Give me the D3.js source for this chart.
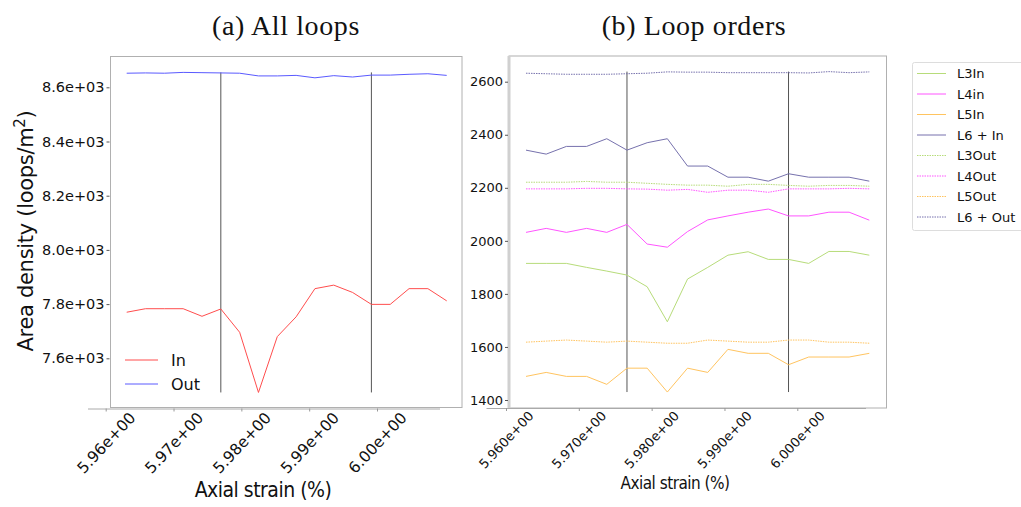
<!DOCTYPE html>
<html><head><meta charset="utf-8">
<script src="https://cdn.jsdelivr.net/npm/d3@7"></script>
<style>body{margin:0;background:#fff}svg{display:block}</style>
</head><body>
<svg id="c" width="1021" height="507"></svg>
<script>
// ---- data ----
const xTicks = [5.96, 5.97, 5.98, 5.99, 6.00];
const yTicksA = [7600, 7800, 8000, 8200, 8400, 8600];
const yTicksB = [1400, 1600, 1800, 2000, 2200, 2400, 2600];
const markerIdx = [5, 13];
const allIn  = [7770, 7783, 7783, 7783, 7755, 7782, 7696, 7474, 7680, 7753, 7857, 7870, 7843, 7799, 7799, 7857, 7857, 7812];
const allOut = [8652, 8653, 8652, 8655, 8654, 8653, 8652, 8642, 8642, 8644, 8635, 8643, 8638, 8645, 8645, 8648, 8650, 8644];
const L3In  = [1915, 1915, 1915, 1900, 1886, 1871, 1827, 1695, 1856, 1900, 1946, 1959, 1930, 1930, 1915, 1960, 1960, 1946];
const L4In  = [2032, 2047, 2032, 2047, 2032, 2062, 1988, 1976, 2035, 2079, 2094, 2108, 2120, 2094, 2094, 2108, 2108, 2078];
const L5In  = [1489, 1504, 1489, 1489, 1459, 1520, 1520, 1430, 1520, 1504, 1591, 1576, 1576, 1533, 1562, 1562, 1562, 1576];
const L6In  = [2342, 2327, 2356, 2356, 2385, 2342, 2370, 2385, 2282, 2282, 2240, 2240, 2225, 2253, 2240, 2240, 2240, 2225];
const L3Out = [2221, 2221, 2221, 2224, 2221, 2221, 2217, 2213, 2210, 2210, 2206, 2213, 2213, 2209, 2206, 2209, 2209, 2206];
const L4Out = [2196, 2196, 2196, 2198, 2198, 2196, 2195, 2191, 2194, 2183, 2191, 2191, 2183, 2196, 2196, 2196, 2198, 2196];
const L5Out = [1618, 1622, 1626, 1622, 1618, 1622, 1618, 1614, 1614, 1626, 1622, 1618, 1618, 1626, 1626, 1618, 1618, 1614];
const L6Out = [2632, 2630, 2628, 2628, 2628, 2630, 2632, 2637, 2636, 2636, 2634, 2634, 2634, 2634, 2633, 2638, 2634, 2637];
const seriesA = [
  {name: "In", values: allIn, color: "#ff4d4d"},
  {name: "Out", values: allOut, color: "#5a5aff"}
];
const seriesB = [
  {name: "L3In", values: L3In, color: "#b7dc7a", dash: null},
  {name: "L4in", values: L4In, color: "#ff55ff", dash: null},
  {name: "L5In", values: L5In, color: "#ffc460", dash: null},
  {name: "L6 + In", values: L6In, color: "#7671ad", dash: null},
  {name: "L3Out", values: L3Out, color: "#b7dc7a", dash: "1.5,1"},
  {name: "L4Out", values: L4Out, color: "#ff55ff", dash: "1.5,1"},
  {name: "L5Out", values: L5Out, color: "#ffc460", dash: "1.5,1"},
  {name: "L6 + Out", values: L6Out, color: "#7671ad", dash: "1.5,1"}
];

const svg = d3.select("#c");
const sans = "'DejaVu Sans', sans-serif";
const serif = "'Liberation Serif', 'DejaVu Serif', serif";

function panel(o) {
  const g = svg.append("g");
  const xi = d3.scaleLinear().domain([0, o.n - 1]).range(o.dataX);
  const y = d3.scaleLinear().domain(o.yDomain).range(o.yRange);
  const xt = d3.scaleLinear().domain([5.96, 6.00]).range(o.tickX);
  // frame
  g.append("rect").attr("x", o.frame[0]).attr("y", o.frame[1])
    .attr("width", o.frame[2] - o.frame[0]).attr("height", o.frame[3] - o.frame[1])
    .attr("fill", "none").attr("stroke", "#b0b0b0").attr("stroke-width", 1);
  if (o.leftBar) {
    g.append("line").attr("x1", o.frame[0]).attr("x2", o.frame[0])
      .attr("y1", o.frame[1]).attr("y2", o.frame[3])
      .attr("stroke", "#d0d0d0").attr("stroke-width", 3);
  }
  // y axis
  const ya = g.append("g").attr("transform", `translate(${o.frame[0] - 1},0)`)
    .call(d3.axisLeft(y).tickValues(o.yTicks).tickSize(3).tickPadding(2).tickFormat(o.yFmt));
  ya.select(".domain").remove();
  ya.selectAll(".tick line").attr("stroke", "#555");
  ya.selectAll("text").attr("font-family", sans).attr("font-size", o.yFont).attr("fill", "#111");
  // x axis (offset spine)
  const xa = g.append("g").attr("transform", `translate(0,${o.axisY})`)
    .call(d3.axisBottom(xt).tickValues(xTicks).tickSize(3).tickFormat(o.xFmt));
  xa.select(".domain").attr("d", `M${o.axisX[0]},0.5H${o.axisX[1]}`).attr("stroke", "#aaa");
  xa.selectAll(".tick line").attr("stroke", "#999");
  xa.selectAll("text").attr("font-family", sans).attr("font-size", o.xFont).attr("fill", "#111")
    .attr("text-anchor", "middle").attr("dy", null).attr("y", 0)
    .attr("transform", `translate(${o.labelDX},${o.labelDY}) rotate(-47)`);
  // vertical markers
  const all = o.series.flatMap(s => s.values);
  const lo = d3.min(all), hi = d3.max(all);
  g.selectAll(".vm").data(markerIdx).join("line")
    .attr("x1", d => xi(d)).attr("x2", d => xi(d))
    .attr("y1", y(hi)).attr("y2", y(lo))
    .attr("stroke", "#555").attr("stroke-width", 1);
  // lines
  const line = d3.line().x((d, i) => xi(i)).y(d => y(d));
  g.selectAll(".ln").data(o.series).join("path")
    .attr("d", d => line(d.values)).attr("fill", "none")
    .attr("stroke", d => d.color).attr("stroke-width", 1)
    .attr("stroke-dasharray", d => d.dash || null);
  // title
  svg.append("text").attr("x", o.titleX).attr("y", 35).attr("text-anchor", "middle")
    .attr("font-family", serif).attr("font-size", 28).attr("letter-spacing", "0.6")
    .attr("fill", "#111").text(o.title);
  // x label
  svg.append("text").attr("x", o.xlabX).attr("y", o.xlabY).attr("text-anchor", "middle")
    .attr("font-family", "'DejaVu Sans Condensed', 'DejaVu Sans', sans-serif")
    .attr("font-size", o.xlabFont).attr("fill", "#111").attr("letter-spacing", "-0.5")
    .text("Axial strain (%)");
  return {g, xi, y};
}

panel({
  n: 18, dataX: [126.7, 446.7], yDomain: [7600, 8600], yRange: [358.3, 87.3],
  tickX: [105.7, 377], frame: [110.5, 56.5, 462, 407.5], axisY: 408.5, axisX: [88, 440],
  yTicks: yTicksA, yFmt: d => d3.format(".1e")(d).replace("e+3", "e+03"), yFont: 14.5,
  xFmt: d => d3.format(".2e")(d).replace("e+0", "e+00"), xFont: 15.5, labelDX: 4, labelDY: 38,
  series: seriesA, title: "(a) All loops", titleX: 286, xlabX: 263, xlabY: 497, xlabFont: 21
});
panel({
  n: 18, dataX: [526, 869.3], yDomain: [1400, 2600], yRange: [400, 81.7],
  tickX: [506, 797.3], frame: [509, 56, 886.5, 408], axisY: 408, axisX: [486.5, 866],
  yTicks: yTicksB, yFmt: d3.format("d"), yFont: 13,
  xFmt: d => d3.format(".3e")(d).replace("e+0", "e+00"), xFont: 13, labelDX: 3, labelDY: 35,
  series: seriesB, title: "(b) Loop orders", titleX: 694, xlabX: 675, xlabY: 489, xlabFont: 17,
  leftBar: true
});

// y label (left)
const yl = svg.append("text").attr("transform", "translate(33,231) rotate(-90)")
  .attr("text-anchor", "middle").attr("font-family", sans).attr("font-size", 21).attr("fill", "#111")
  .attr("letter-spacing", "-0.3");
yl.append("tspan").text("Area density (loops/m");
yl.append("tspan").attr("font-size", 15).attr("dy", -8).text("2");
yl.append("tspan").attr("dy", 8).text(")");

// legend (a)
const legA = svg.append("g");
legA.selectAll("line").data(seriesA).join("line")
  .attr("x1", 125).attr("x2", 158).attr("y1", (d, i) => 360 + i * 24).attr("y2", (d, i) => 360 + i * 24)
  .attr("stroke", d => d.color).attr("stroke-width", 1);
legA.selectAll("text").data(seriesA).join("text")
  .attr("x", 171).attr("y", (d, i) => 360 + i * 24).attr("dy", "0.35em")
  .attr("font-family", sans).attr("font-size", 16).attr("fill", "#111").text(d => d.name);

// legend (b)
const legB = svg.append("g");
legB.append("rect").attr("x", 912.5).attr("y", 62.5).attr("width", 120).attr("height", 168)
  .attr("rx", 2).attr("fill", "#fff").attr("stroke", "#ddd");
legB.selectAll("line").data(seriesB).join("line")
  .attr("x1", 917).attr("x2", 946).attr("y1", (d, i) => 73.5 + i * 20.5).attr("y2", (d, i) => 73.5 + i * 20.5)
  .attr("stroke", d => d.color).attr("stroke-width", 1).attr("stroke-dasharray", d => d.dash || null);
legB.selectAll("text").data(seriesB).join("text")
  .attr("x", 957).attr("y", (d, i) => 73.5 + i * 20.5).attr("dy", "0.35em")
  .attr("font-family", sans).attr("font-size", 13).attr("fill", "#111").text(d => d.name);
</script>
</body></html>
